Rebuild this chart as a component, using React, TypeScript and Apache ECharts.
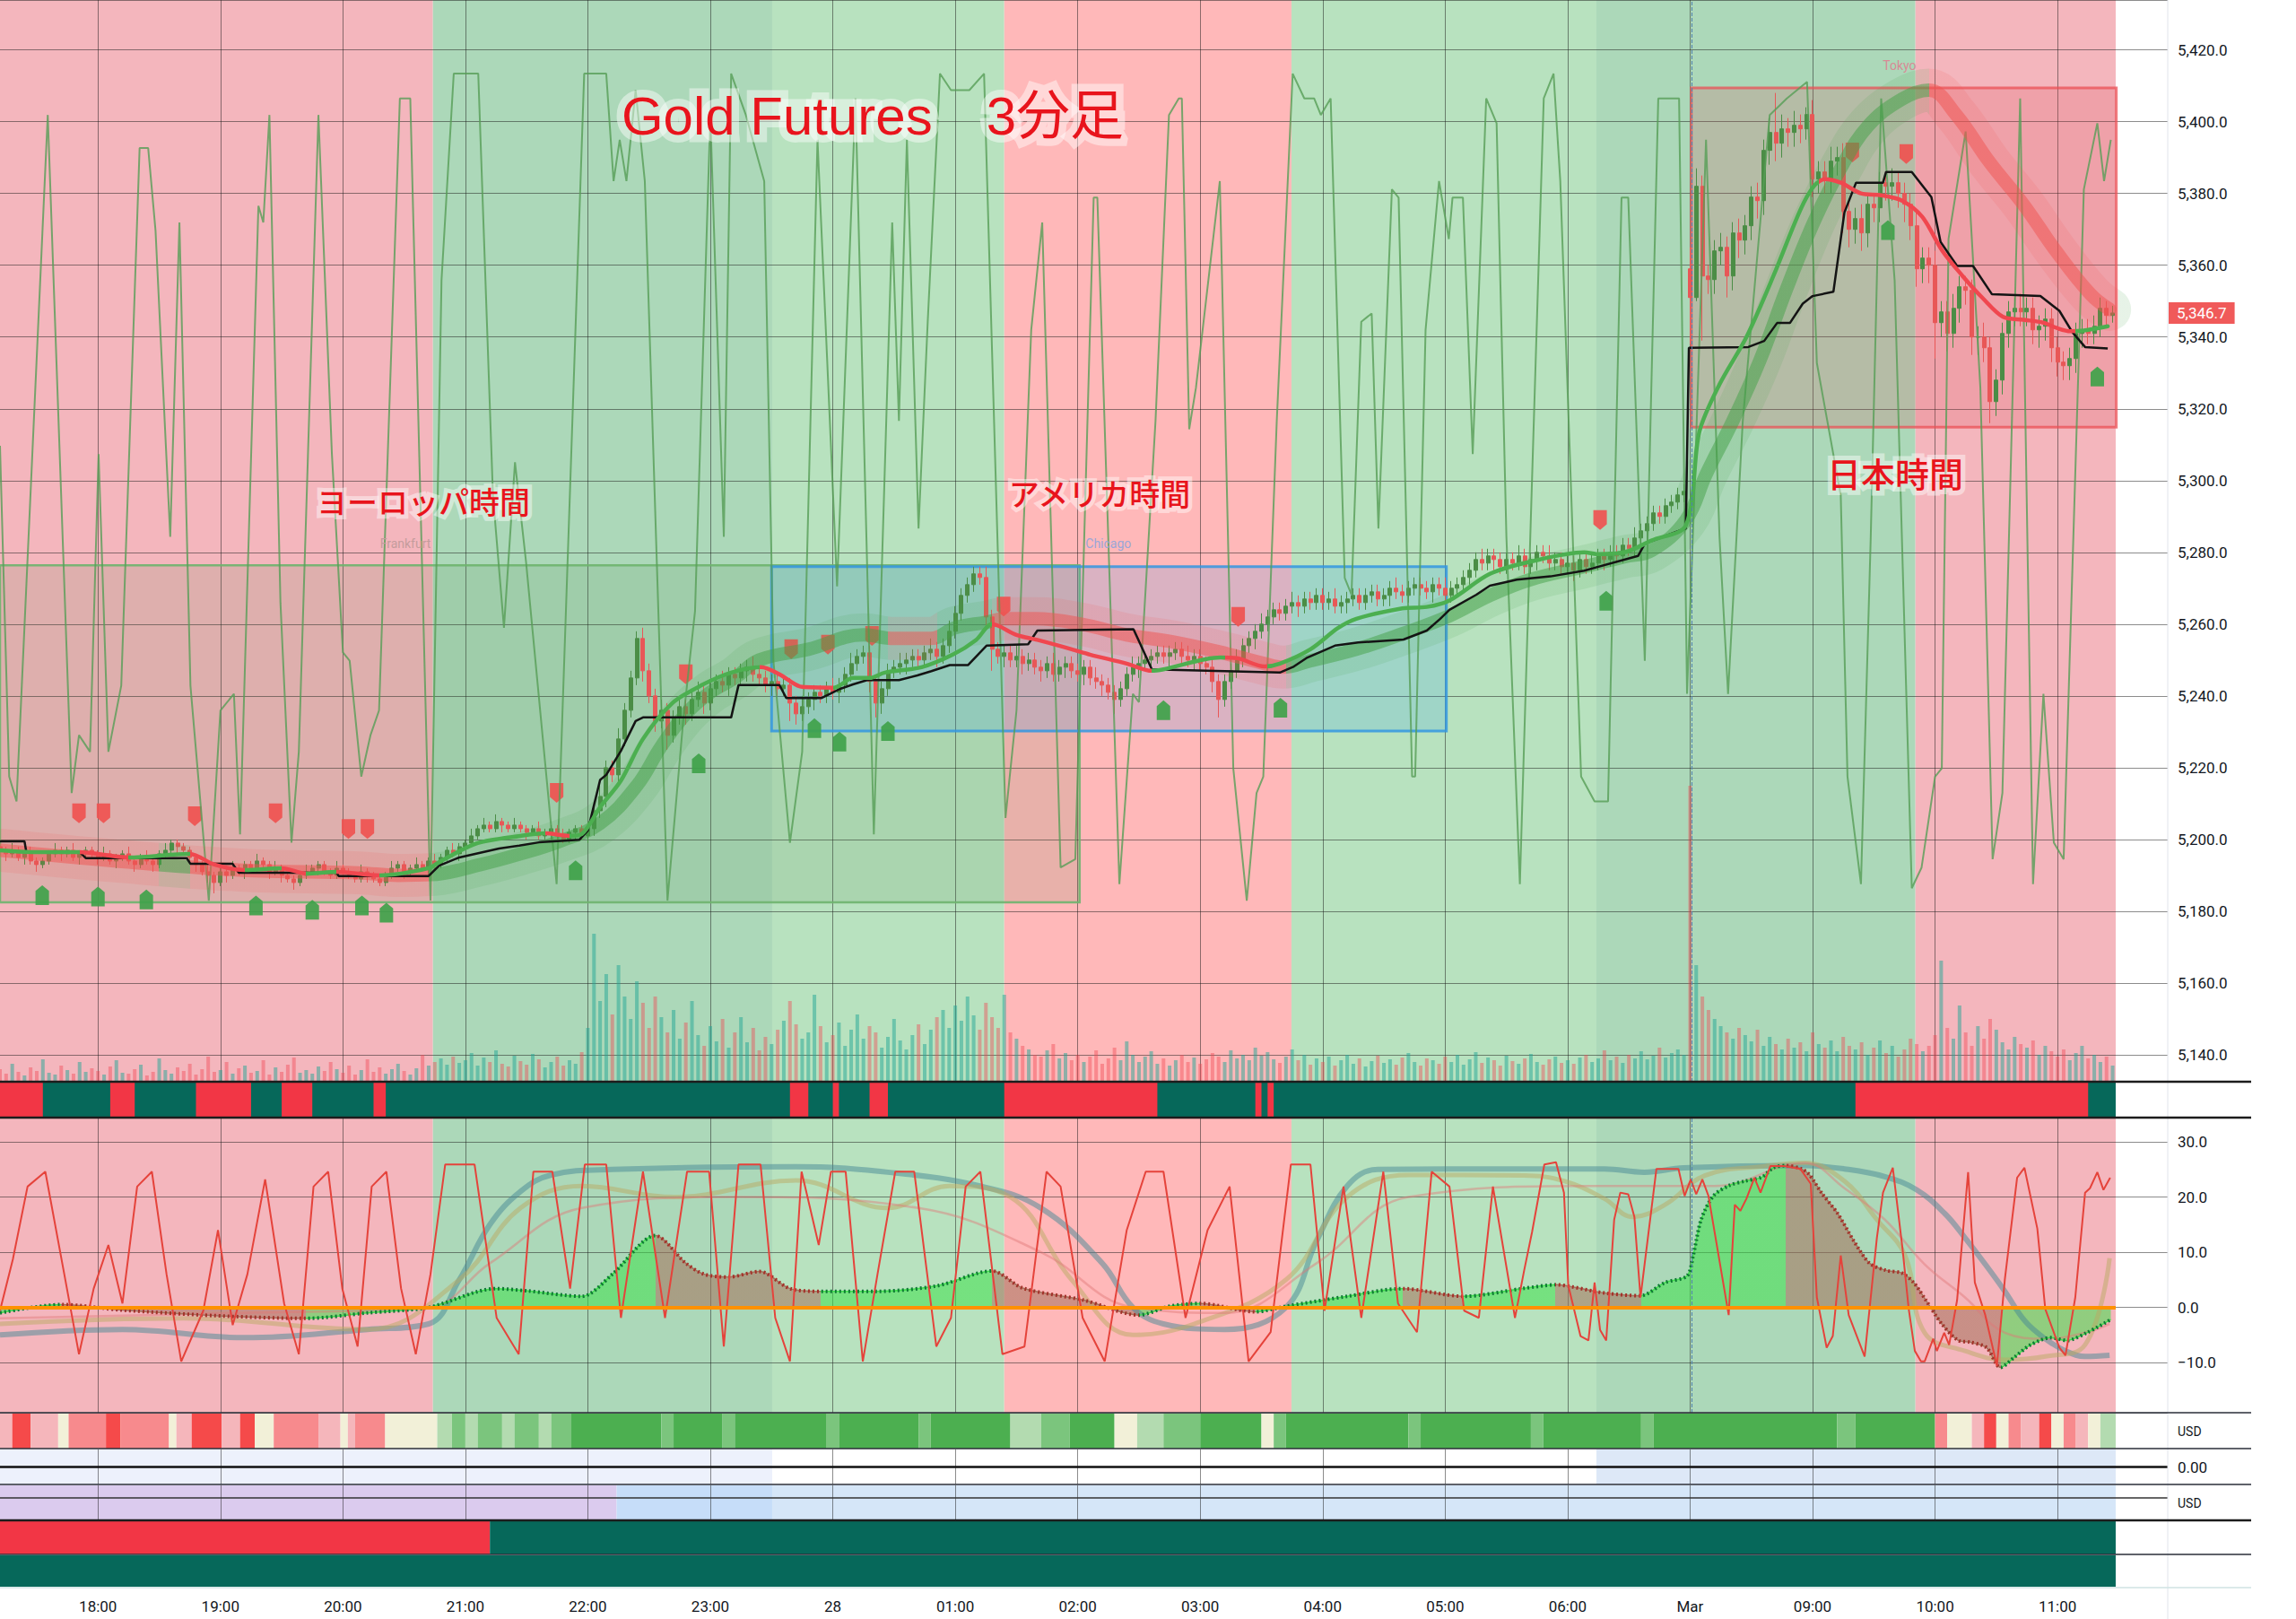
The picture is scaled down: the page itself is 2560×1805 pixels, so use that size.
import React, { useEffect, useRef } from 'react';
import * as echarts from 'echarts';

// ---------------- data ----------------
const SLOT_COUNT = 355;
const FIRST_TICK = 16;
const TICK_STEP = 20;
const tickLabels = ['18:00','19:00','20:00','21:00','22:00','23:00','28','01:00','02:00','03:00','04:00','05:00','06:00','Mar','09:00','10:00','11:00'];

const closes = [
5197,5196,5197,5195,5196,5194,5193,5194,5196,5197,5196,5197,5195,5196,5197,5196,
5195,5196,5194,5195,5196,5194,5193,5195,5194,5193,5196,5197,5199,5198,5197,5195,
5193,5191,5190,5188,5191,5190,5192,5191,5193,5192,5194,5193,5191,5192,5190,5189,
5188,5190,5191,5192,5193,5191,5190,5192,5191,5190,5189,5191,5190,5189,5188,5190,
5192,5193,5191,5192,5193,5192,5194,5193,5195,5197,5196,5198,5199,5201,5203,5204,
5203,5205,5204,5203,5204,5203,5202,5203,5201,5202,5203,5201,5200,5202,5203,5201,
5203,5208,5212,5220,5218,5228,5236,5245,5256,5247,5240,5233,5236,5229,5234,5237,
5235,5239,5241,5238,5242,5244,5243,5246,5245,5247,5248,5246,5245,5243,5244,5242,
5243,5238,5235,5237,5239,5241,5240,5242,5241,5243,5246,5249,5251,5252,5244,5238,
5242,5247,5248,5249,5250,5251,5250,5252,5253,5251,5254,5258,5263,5268,5271,5274,
5273,5262,5253,5251,5252,5250,5251,5249,5250,5248,5247,5249,5246,5248,5249,5247,
5246,5248,5245,5244,5243,5241,5239,5242,5246,5248,5249,5250,5251,5252,5251,5252,
5253,5251,5250,5251,5249,5248,5244,5239,5244,5247,5250,5254,5256,5258,5260,5262,
5264,5263,5265,5266,5265,5267,5266,5268,5266,5267,5265,5266,5267,5268,5266,5268,
5269,5267,5268,5270,5269,5268,5270,5271,5270,5269,5271,5270,5268,5270,5271,5273,
5275,5278,5277,5279,5278,5276,5278,5277,5279,5276,5278,5280,5279,5277,5278,5276,
5277,5275,5278,5276,5277,5279,5278,5280,5279,5282,5281,5284,5286,5288,5291,5290,
5293,5294,5296,5297,
5351,5382,5357,5356,5364,5365,5357,5369,5367,5371,5379,5378,5392,5397,5394,5398,
5397,5399,5398,5402,5384,5386,5384,5389,5390,5375,5370,5373,5369,5377,5376,5383,
5382,5383,5380,5377,5371,5359,5362,5360,5344,5347,5341,5348,5354,5353,5340,5340,
5337,5322,5328,5341,5347,5348,5347,5348,5342,5343,5345,5337,5333,5332,5334,5341,
5342,5341,5343,5348,5346,5346.7
];
const gapOpens: Record<number, number> = { 0: 5198, 276: 5359 };
const wickUp = [
1,1,2,1,1,2,1,1,1,2,1,1,2,1,1,1, 1,2,1,1,1,2,1,1,2,1,1,2,1,1,1,1,
1,1,2,1,1,1,2,1,1,1,2,1,1,2,1,1, 1,1,2,1,1,1,1,2,1,1,1,2,1,1,1,1,
2,1,1,1,2,1,1,2,1,1,2,1,1,2,1,2, 1,2,1,1,2,1,1,1,2,1,1,1,2,1,1,1,
2,2,3,2,2,3,2,2,2,3,2,2,3,2,2,2, 2,2,3,2,2,2,3,2,2,2,2,3,2,2,2,2,
2,2,2,3,2,2,2,2,3,2,2,3,2,2,2,2, 2,2,2,3,2,2,2,2,3,2,2,3,2,2,2,2,
2,3,2,2,2,2,3,2,2,2,2,2,3,2,2,2, 2,2,2,3,2,2,2,2,2,3,2,2,2,2,2,2,
2,2,3,2,2,2,2,2,2,2,3,2,2,2,3,2, 2,2,2,3,2,2,2,2,2,2,3,2,2,2,2,2,
2,2,2,2,3,2,2,2,2,2,2,2,3,2,2,2, 2,2,3,2,2,2,2,2,3,2,2,2,2,3,2,2,
2,2,2,2,3,2,2,2,2,2,2,3,2,2,2,2, 2,2,2,2,
6,5,3,3,3,4,3,3,4,3,3,4,3,4,11,4, 3,4,3,2,4,3,3,4,3,4,3,3,4,3,3,3,
3,4,3,3,3,4,3,3,4,3,3,4,3,3,3,3, 4,3,3,3,3,3,4,3,3,3,3,3,3,3,3,3,
3,3,3,3,2,2
];
const wickDn = [
1,2,1,1,2,1,2,1,1,1,2,1,1,2,1,1, 2,1,1,2,1,1,2,1,1,2,1,1,1,2,1,1,
2,1,2,3,1,2,1,1,2,1,1,1,2,1,2,1, 2,1,1,1,2,1,1,1,2,1,1,1,2,1,1,1,
1,1,2,1,1,1,2,1,1,1,1,2,1,1,1,1, 1,1,2,1,1,1,2,1,1,1,2,1,1,1,2,1,
2,2,2,3,2,2,2,2,2,3,2,3,2,4,2,2, 3,2,2,3,2,2,2,3,2,2,3,2,2,2,3,2,
2,5,3,2,2,3,2,2,2,3,2,2,2,2,3,4, 3,2,2,2,3,2,2,2,2,3,2,2,2,2,2,2,
2,3,6,2,3,2,2,3,2,2,3,2,2,2,3,2, 2,3,2,2,3,2,4,2,2,2,3,2,2,2,2,3,
2,2,2,3,2,2,3,5,2,2,2,2,2,3,2,2, 2,2,2,2,3,2,2,2,2,2,2,2,3,2,2,2,
2,2,2,3,2,2,2,2,2,2,3,2,2,2,2,2, 2,2,2,2,3,2,2,2,2,2,2,3,2,2,2,2,
2,3,2,2,2,2,3,2,2,2,2,2,2,3,2,2, 2,2,2,2,
13,1,18,4,4,4,6,4,5,4,4,5,4,4,5,4, 4,4,4,3,5,4,4,4,4,6,5,4,5,4,4,4,
4,4,4,5,4,5,4,5,10,4,5,4,4,4,5,5, 4,6,4,4,4,4,4,4,4,5,4,4,4,4,4,4,
4,3,3,3,3,2
];
const volumes = [
14,9,20,11,7,16,12,25,10,8,18,13,9,22,11,15,
12,8,17,24,10,9,14,19,7,11,26,13,9,16,12,20,8,14,28,11,
13,22,9,15,18,10,12,24,8,16,11,19,27,10,13,9,17,12,22,14,
10,18,8,13,25,11,16,9,14,20,12,8,15,30,18,22,26,19,28,21,
24,32,18,27,22,35,20,17,29,23,19,31,25,16,22,28,18,24,20,33,
60,165,90,120,75,130,95,70,112,88,60,95,72,55,80,48,66,90,52,40,
62,45,70,38,55,72,44,60,35,50,42,58,68,90,64,48,55,97,62,44,
52,66,40,58,75,48,62,55,38,50,70,46,36,52,64,42,58,72,80,60,
85,68,95,74,58,88,72,60,97,55,48,40,36,30,28,35,42,26,32,24,
30,22,28,35,20,26,38,24,45,30,22,28,34,20,26,18,24,30,22,27,
20,25,32,28,22,35,26,30,24,38,29,33,25,21,28,36,24,30,19,26,
22,28,18,24,30,20,26,17,23,29,21,25,19,27,32,22,18,26,24,20,
28,22,30,19,25,33,21,27,24,18,29,23,20,26,31,22,19,25,28,21,
24,20,27,30,22,26,35,24,28,21,30,26,34,25,29,38,27,32,36,30,
330,130,95,80,70,62,55,48,60,52,45,58,40,50,42,36,48,38,44,34,
55,42,38,46,34,50,40,36,44,30,38,46,32,40,28,36,48,42,34,40,
52,135,60,48,85,55,40,62,48,70,58,44,36,50,42,38,46,30,40,34,
28,36,24,32,40,26,30,22,28,18
];

// session background bands [from, to, kind] in bar units
const sessions: [number, number, string][] = [
  [0, 70.7, 'pink'], [70.7, 126.1, 'green'], [126.1, 164, 'lightGreen'], [164, 210.9, 'red'],
  [210.9, 260.7, 'lightGreen'], [260.7, 312.8, 'green'], [312.8, 345.5, 'pink'],
];
const sessionBoxes = [
  { kind: 'fra', from: 0, to: 176.3, low: 5182.5, high: 5276.4 },
  { kind: 'chi', from: 126, to: 236.2, low: 5230.2, high: 5276 },
  { kind: 'tok', from: 276.2, to: 345.6, low: 5314.9, high: 5409.4 },
];
const boxLabels: [string, number, number, string][] = [
  ['Frankfurt', 66.2, 5282.4, 'fra'], ['Chicago', 181, 5282.4, 'chi'], ['Tokyo', 310.2, 5415.6, 'tok'],
];
const sellSignals = [[12.9,5207.3],[16.9,5207.3],[31.8,5206.5],[45,5207.3],[56.9,5202.9],[60,5202.9],[90.9,5213],[112,5246],[129.2,5253],[135.2,5254.3],[142.4,5256.7],[163.9,5264.9],[202.2,5262],[261.3,5289],[302.5,5391.4],[311.3,5391]];
const buySignals = [[6.9,5184.5],[16,5184.1],[23.9,5183.3],[41.8,5181.6],[51,5180.4],[59.1,5181.6],[63.1,5179.6],[94,5191.4],[114.1,5221.2],[133,5231],[137.1,5227.3],[145,5230.2],[190,5236],[209.1,5236.7],[262.3,5266.5],[308.3,5369.8],[342.5,5329]];

const stepLine = [[0,5199.5],[4,5199.5],[4.3,5196.5],[13,5196.5],[14,5194.8],[30.5,5194.8],[31.1,5193.2],[38,5193.2],[39,5190.7],[55,5190.7],[55.3,5189.8],[70,5189.8],[71.7,5192.7],[75,5195],[81.5,5197.5],[84.8,5198.3],[88,5199.2],[94.6,5199.9],[96,5202.5],[98,5216.6],[99,5218],[101.4,5224.7],[103.8,5233],[105,5234],[119.4,5234],[120.6,5243],[127.3,5243],[128.4,5239.4],[134.1,5239.4],[135.6,5240.6],[137.1,5241.9],[139.3,5243.2],[141.6,5244.4],[146.8,5244.4],[149.8,5245.7],[152.1,5246.9],[155.1,5248.6],[158.1,5248.6],[161.1,5254],[167.9,5254.4],[169.4,5258.2],[185.1,5258.6],[188.1,5247.4],[209,5246.5],[211.3,5248.2],[213.5,5250.7],[218,5254],[221.8,5254.9],[229.2,5255.7],[233,5258.2],[235.2,5261.5],[236.7,5264],[241.1,5268.2],[243.3,5270.7],[247.7,5272.4],[253.2,5273.3],[258.7,5274.9],[267.5,5279],[268.6,5282.4],[275.3,5286.7],[275.8,5337],[285.5,5337.2],[288.1,5338.9],[290.2,5343.9],[292.3,5343.9],[294.4,5349.3],[296,5351.4],[299.4,5352.6],[301.2,5374.7],[303.1,5383],[307.5,5383],[308,5386],[312.2,5386],[315.4,5379],[316.9,5366.5],[319.6,5359.8],[322.2,5359.8],[325.3,5351.9],[333.2,5351.4],[336.3,5347.3],[338.4,5341.4],[340.5,5337.2],[344.2,5336.8]];

const fastMA = [[0,5197],[5,5196.5],[13,5196.5],[21,5195],[31,5196],[35,5193],[40,5191.5],[46,5192],[50,5190.5],[55,5191],[62,5190],[70,5192],[72,5194],[78,5199],[85,5201],[89,5201.7],[93,5201],[95,5201.5],[98,5209],[101.4,5216.4],[105,5228],[109.8,5238],[114.6,5243],[119.4,5246.5],[124.3,5248],[127.3,5246],[131,5242.5],[136.2,5242.3],[139.3,5245],[142,5245],[144.5,5246.5],[150.5,5248],[155.6,5251.5],[159.4,5255.6],[162,5260],[166,5257],[169.4,5255.6],[175,5253],[178,5251.5],[184,5249],[188,5247],[190,5247.4],[199.3,5250.7],[202,5250.5],[206.5,5248.2],[209,5249],[214,5253],[218.5,5258.9],[221.5,5261.5],[229,5264.4],[233,5264.8],[236.7,5266.6],[243.3,5274],[249.9,5277.4],[258.7,5280],[260.9,5279.5],[265.3,5280],[269.7,5283.3],[275.3,5287.5],[277.5,5313.5],[280.8,5326.8],[285.2,5340],[289.6,5357],[294,5375.4],[296.2,5382],[298,5384],[300.6,5383],[303.9,5380],[307.2,5379.5],[310.6,5378],[313.9,5373.5],[317.2,5364],[320.5,5357],[323.8,5350.8],[327.1,5345.6],[330.4,5344.8],[333.7,5344],[335.9,5342.5],[338.1,5341.6],[340.3,5341.8],[344.2,5343]];
const fastMAFalling = [[13,21],[31,40],[46,50],[55,62],[89,93],[124,136],[162,188],[200,207],[297,339]];

const slowBand = [[0,5197],[19,5194],[39,5191.5],[58.6,5190.7],[65,5190],[70.4,5190.2],[78.5,5193],[85,5196],[91.4,5199.5],[98,5204.5],[104,5215],[108,5226],[112,5235],[116,5241],[120,5245],[124,5250],[132,5253],[141,5257],[146,5256],[152,5256],[156,5259],[161,5260.5],[164.1,5261.5],[169,5261.5],[176.6,5260],[184,5257],[191.7,5255],[199,5252.3],[206.5,5249],[209.5,5248],[214,5249.8],[221.5,5253],[229,5257.3],[236.7,5262.3],[243.3,5268],[249.9,5272.4],[258.7,5276],[265.3,5278.8],[269.7,5280.5],[275.3,5289],[278.6,5301.7],[283,5316.7],[287.4,5333.5],[291.8,5353.6],[296.2,5372],[300.6,5387],[305,5398.7],[310.6,5406.3],[315,5408.8],[319.4,5402],[324.9,5388.7],[330.4,5377],[335.9,5363.6],[341.4,5351.9],[344.5,5347.7]];
const slowBandFalling = [[0,26],[31,70],[145,153],[162,210],[315,346]];

const mainOsc = [[0,55],[1.5,15],[2.7,12],[7.8,95],[11.7,13],[12.9,20],[14.7,18],[16.1,54],[17.7,18],[19.8,26],[22.8,91],[24.2,91],[25.4,81],[27.8,44],[29.3,82],[31.1,26],[34.1,0],[36,23],[38.2,25],[39.2,8],[42.2,84],[43,82],[44,95],[45.8,36],[47.6,7],[48.8,18],[52,95],[54.2,54],[56,30],[57.1,29],[59,15],[60.5,20],[61.9,23],[65.3,97],[67,97],[70.3,0],[72.1,75],[74.1,100],[78.1,100],[80.5,49],[82.3,33],[84.1,53],[85.9,41],[90.9,2],[95.4,100],[99,100],[100.2,87],[101.2,92],[102.3,87],[103.8,98],[105.3,87],[109,0],[111.6,22],[113.5,35],[116,95],[118.2,44],[119.4,100],[121.8,95],[124.8,87],[126.3,29],[129,7],[131,18],[133.5,92],[136.7,38],[139.7,97],[142.7,8],[145.7,82],[146.8,58],[148.1,92],[150,45],[151.5,70],[153.5,100],[155.3,98],[158.3,98],[160.7,100],[164.2,10],[166,23],[168.4,69],[170.2,82],[173.2,4],[175.6,5],[178.6,85],[179.2,85],[182.8,2],[185,25],[186,24],[188.7,58],[190.9,95],[192.5,97],[193,97],[194.2,57],[195.3,62],[199.2,87],[201.4,16],[203.6,0],[205.2,13],[206.3,15],[208.5,58],[211.1,100],[213,97],[214.6,97],[215.7,95],[217.3,97],[219.6,39],[220.7,37],[222.3,70],[224,71],[225.1,45],[227.3,86],[228.4,85],[230.6,15],[231.1,15],[232.8,69],[235,87],[236.6,80],[237.2,85],[238.9,85],[240.5,54],[242.7,97],[244.4,94],[246,44],[248.2,2],[249.9,44],[252.1,97],[253.7,100],[254.8,87],[258.2,15],[260.4,12],[262.6,12],[264.8,85],[265.9,85],[268.6,29],[270.8,97],[274.2,97],[275.5,25],[276.5,45],[278.6,92],[280.8,44],[282.2,25],[284.6,58],[289,95],[291.8,97],[295.1,99],[296.7,65],[300.6,49],[301.7,15],[303.9,2],[305.5,44],[307.2,97],[309.4,75],[312.2,1.5],[313.8,4],[316,15],[317.1,16],[318.2,80],[321,93],[323.4,62],[325.4,5],[327,13],[329.9,97],[332,2],[333.7,25],[335.4,7],[337,5],[340.3,86],[342.5,94],[343.6,87],[344.7,92]];

// red / green trend strip: red runs, green elsewhere
const trendRedRuns = [[0,7],[18,22],[32,41],[46,51],[61,63],[129,132],[136,137],[142,145],[164,189],[205,206],[207,208],[303,341]];

// oscillator panel
const oscFast = [[0,-0.6],[2.1,8.7],[4.5,21.9],[7.4,24.6],[10.5,6],[12.9,-8.5],[15.3,3.4],[17.7,11.3],[20,0.7],[22.4,21.9],[24.8,24.6],[27.2,6],[29.6,-9.8],[33.2,-0.6],[35.6,14],[38,-3.2],[40.4,6],[43.3,23.2],[46.4,0.7],[48.8,-8.5],[51.2,21.9],[53.6,24.6],[55.9,3.4],[58.4,-7.1],[60.7,21.9],[63.1,24.6],[65.5,3.4],[67.9,-8.5],[70.3,6],[72.7,25.9],[77.5,25.9],[81.1,-1.9],[84.7,-8.5],[87.1,24.6],[90.2,24.6],[93.1,3.4],[95.5,25.9],[99,25.9],[101.4,-1.9],[105,24.6],[108.6,-1.9],[112.2,24.6],[115.8,24.6],[118.2,-7.1],[120.6,25.9],[124.2,25.9],[126.6,-1.9],[129,-9.8],[130.9,24.6],[133.7,11.3],[135.7,24.6],[138.1,24.6],[140.9,-9.8],[143.3,6],[146.2,24.6],[149.3,24.6],[152.9,-7.1],[155.3,-1.9],[157.7,21.9],[160.1,24.6],[163.7,-8.5],[167.3,-7.1],[170.9,24.6],[173.2,21.9],[176.8,-1.9],[180.4,-9.8],[184,14],[187.1,24.6],[190,24.6],[193.6,-1.9],[197.2,14],[200.8,21.9],[203.9,-9.8],[207.5,-4.5],[210.8,25.9],[214,25.9],[216.3,-0.6],[219.4,21.9],[222.3,-1.9],[225.9,24.6],[228.3,0.7],[231.4,-4.5],[233.8,24.6],[236.7,21.9],[239.1,-0.6],[241.5,-1.9],[243.8,21.9],[247.4,-1.9],[248.9,6.7],[250.2,13.7],[252.2,25.9],[254.1,26.3],[255.4,20.8],[256.1,4],[258.1,-5.2],[259.4,-6],[260.4,4.5],[261.3,-4.1],[262.3,-6],[263.6,15.9],[264.6,20.8],[265.9,20.5],[266.9,16.4],[267.9,1.8],[270.5,25.1],[274.1,25.1],[275.1,20.2],[276.1,23.2],[277,20.5],[278,23.2],[279,20.2],[282.3,-1.4],[283.3,18.6],[284.2,17.5],[285.2,19.7],[286.5,23.5],[287.5,20.8],[289.1,25.6],[291.4,25.6],[294,25.1],[295.7,22.4],[296.7,1.8],[298.3,-7.3],[299.3,-5.2],[300.6,9.4],[301.9,-1.4],[304.5,-8.9],[306.5,12.6],[307.5,20.8],[309.1,25.3],[310.7,10.5],[311.7,-0.3],[312.7,-7.9],[313.7,-9.8],[314.3,-9.8],[315.7,-5.7],[316.3,-7.9],[317.5,-4.6],[318.3,-6.8],[319.6,1.3],[321.4,24.5],[322.5,4.5],[324.2,-1.4],[326.1,-10.6],[327.4,5.1],[329.4,23.5],[330.6,25.3],[332.7,14.3],[334,-0.3],[336.3,-7.3],[337.3,-8.7],[338.9,1.8],[340.5,20.8],[341.3,21.6],[342.5,24.5],[343.5,21.3],[344.6,23.5]];
const momentum = [[0,-1],[10,0.5],[20,-0.5],[35,-1.5],[50,-2],[60,-1],[70,0],[81,3.4],[86,3],[95,2],[100,6],[107,13],[112,8],[115,6],[119,5.5],[124,6.5],[129,3.4],[134,2.9],[143,2.9],[153,3.9],[162,6.6],[167,3.5],[177,1.3],[186,-1.4],[191,0.2],[196,0.7],[205,-0.8],[210,0.2],[220,2],[229,3.4],[239,2],[248.9,3.45],[254.2,4.1],[256.8,3.7],[262,2.6],[267.9,2.1],[271.9,4.5],[275.5,5.7],[276.5,9.4],[277.8,15.9],[279.8,20.2],[282.4,22.1],[285,22.9],[287.7,23.6],[289.6,25.3],[291.6,25.7],[294.2,25.1],[295.5,24],[297.5,20.7],[300.1,17],[302.7,12.1],[305.3,8],[308,6.7],[310.6,6.2],[312.5,4.5],[314.5,1.3],[317.1,-3],[319.8,-6],[321.7,-6.3],[324.4,-7.3],[326.7,-10.9],[329,-9],[331.6,-6.8],[334.9,-5.5],[337.5,-6],[340.8,-4.6],[344.7,-2.2]];
const momentumFalling = [[10,50],[107,134],[162,186],[196,205],[229,239],[254,268],[291.6,326.7]];
const oscTeal = [[0,-5],[20,-4],[40,-5.5],[60,-4],[70,-3],[75,5],[80,15],[85,21],[90,24],[100,25],[130,25.5],[145,24.5],[160,22],[170,18],[180,8],[185,0],[190,-3],[200,-4],[210,0],[215,12],[220,22],[225,25],[248.9,25.1],[262,25.1],[268.5,24.5],[275,25.3],[294.7,25.7],[301.2,25.1],[307.8,23.7],[313,21.3],[317.6,17],[320.9,12.6],[324.2,7.8],[327.4,2.9],[330.7,-2.5],[334,-5.7],[337.3,-7.9],[340.5,-8.9],[344.5,-8.7]];
const oscKhaki = [[0,-3],[30,-2],[60,-4],[75,5],[85,18],[95,22],[110,20],[130,23],[145,18],[155,22],[165,20],[175,5],[185,-5],[195,-3],[210,5],[220,20],[230,24],[248.9,23.9],[255.4,22.9],[262,19.7],[266.6,16.4],[271.9,18.6],[278.4,23.9],[288.2,25.6],[294.7,26.2],[301.2,22.9],[306.5,15.9],[311.1,9.4],[314.3,-4.6],[320.9,-7.9],[327.4,-9.5],[334,-8.9],[340.5,-6.8],[344.5,8.9]];
const oscPink = [[0,-2],[40,-1],[70,0],[80,8],[95,18],[120,20],[150,18],[170,10],[185,0],[200,-1],[215,8],[230,20],[260,22],[280,22],[294.7,26.2],[301.2,21.6],[307.8,15.9],[314.3,7.8],[320.9,1.8],[327.4,-4.6],[334,-5.7],[340.5,-4.6],[344.5,-3]];

// heat strip: [runEnd, level]
const heatRuns = [[2,-1],[5,-3],[9.5,-1],[11.2,0],[17.3,-2],[19.7,-3],[27.6,-2],[28.8,0],[31.3,-1],[36.2,-3],[39.2,-1],[41.6,-3],[44.7,0],[52,-2],[55.6,-1],[56.8,0],[58,-1],[62.9,-2],[71.4,0],[73.8,1],[76,2],[78,1],[82,2],[84,1],[88,2],[90,1],[93.3,2],[108,3],[110,2],[118,3],[120,2],[135,3],[137,2],[150,3],[152,2],[165,3],[170,1],[174.7,2],[182,3],[185.7,0],[190,1],[196,2],[206,3],[208,0],[210,2],[230,3],[232,2],[250,3],[252,2],[268,3],[270,2],[300,3],[303,2],[316,3],[318,-2],[322,0],[324,-1],[326,-3],[328,0],[330,-2],[333,-1],[335,-3],[337,0],[339,-2],[341,-1],[343,0],[345.5,1]];
const panel1Runs: [number, number, string][] = [[0,126.1,'lav'],[126.1,260.7,'white'],[260.7,345.5,'blue']];
const panel2Runs: [number, number, string][] = [[0,100.7,'purple'],[100.7,126.1,'sky'],[126.1,345.5,'pale']];
const biasRuns: [number, number, string][] = [[0,80,'red'],[80,345.5,'green']];
const DATA_END = 345.5;
const MAR_BREAK = 276.2;
const LAST_PRICE = 5346.7;

// ---------------- styles ----------------
const FONT = 'Roboto, "Noto Sans", "DejaVu Sans", sans-serif';
const JP_FONT = '"Noto Sans CJK JP", "Noto Sans", sans-serif';
const SESSION_COLORS: Record<string, string> = { pink: '#f4b6bd', green: '#acd8b9', lightGreen: '#b8e2bf', red: '#ffb8b9' };
const BOX_STYLES: Record<string, any> = {
  fra: { color: 'rgba(80,130,70,0.13)', borderColor: 'rgba(110,180,110,0.9)', borderWidth: 2.5 },
  chi: { color: 'rgba(33,150,243,0.17)', borderColor: 'rgba(50,150,225,0.85)', borderWidth: 3 },
  tok: { color: 'rgba(220,80,90,0.2)', borderColor: 'rgba(235,80,85,0.75)', borderWidth: 3 },
};
const LABEL_COLORS: Record<string, string> = { fra: '#c49c9c', chi: '#9aa6d8', tok: '#d98a96' };
const HEAT_COLORS: Record<string, string> = { '-3': '#f54a4a', '-2': '#f78a8d', '-1': '#f5b6bb', '0': '#f2f0d8', '1': '#b3dbb0', '2': '#7bc57d', '3': '#4caf50' };
const PANEL_COLORS: Record<string, string> = { lav: '#edf1fc', white: '#ffffff', blue: '#dde8f7', purple: '#dbcbee', sky: '#c6ddf9', pale: '#d5e6f8' };
const STRIP_RED = '#f23645';
const STRIP_GREEN = '#06685a';
const GRID_LINE = { color: 'rgba(25,25,25,0.5)', width: 1 };
const SELL_PATH = 'path://M0,0L10,0L10,10L5,14L0,10Z';
const BUY_PATH = 'path://M5,0L10,4L10,14L0,14L0,4Z';

function buildOption() {
  const categories = Array.from({ length: SLOT_COUNT }, (_, i) => {
    const k = (i - FIRST_TICK) / TICK_STEP;
    return Number.isInteger(k) && k >= 0 && k < tickLabels.length ? tickLabels[k] : '';
  });
  const isTick = (i: number) => categories[i] !== '';

  const candles = closes.map((c, i) => {
    const o = gapOpens[i] !== undefined ? gapOpens[i] : closes[i - 1];
    return [o, c, Math.min(o, c) - wickDn[i], Math.max(o, c) + wickUp[i]];
  });

  const W = 2417;
  const gridDefs = [
    { top: 0, height: 1206 },   // 0 price
    { top: 800, height: 406 },  // 1 volume
    { top: 1207, height: 38 },  // 2 trend strip
    { top: 1246, height: 329 }, // 3 oscillator
    { top: 1576, height: 39 },  // 4 heat
    { top: 1616, height: 39 },  // 5 panel 1
    { top: 1656, height: 39 },  // 6 panel 2
    { top: 1696, height: 37 },  // 7 bias strip
    { top: 1734, height: 35 },  // 8 base strip
  ];
  const grid = gridDefs.map((g) => ({ left: 0, width: W, ...g }));
  const splitGrids = [0, 3, 5, 6];

  const xAxis: any[] = [];
  gridDefs.forEach((_, g) => {
    xAxis.push({
      type: 'category', gridIndex: g, data: categories, boundaryGap: false,
      show: splitGrids.includes(g) || g === 8, z: 1,
      axisLine: { show: false }, axisTick: { show: false },
      axisLabel: g === 8
        ? { show: true, interval: (i: number) => isTick(i), color: '#131722', fontSize: 17, margin: 13, fontFamily: FONT }
        : { show: false },
      splitLine: { show: splitGrids.includes(g), interval: (i: number) => isTick(i), lineStyle: GRID_LINE },
    });
    xAxis.push({ type: 'value', gridIndex: g, min: 0, max: SLOT_COUNT - 1, show: false });
  });
  const CX = (g: number) => 2 * g;
  const VX = (g: number) => 2 * g + 1;

  const rightLabel = { color: '#131722', fontSize: 17, fontFamily: FONT, margin: 11 };
  const yAxis: any[] = [
    { type: 'value', gridIndex: 0, position: 'right', min: 5132.5, max: 5433.9, splitNumber: 15, z: 1,
      axisLine: { show: false }, axisTick: { show: false },
      axisLabel: { ...rightLabel, showMinLabel: false, showMaxLabel: false,
        formatter: (v: number) => v.toLocaleString('en-US', { minimumFractionDigits: 1, maximumFractionDigits: 1 }) },
      splitLine: { show: true, lineStyle: GRID_LINE } },
    { type: 'value', gridIndex: 0, min: -21.9, max: 108.9, show: false },
    { type: 'value', gridIndex: 1, min: 0, max: 406, show: false },
    { type: 'value', gridIndex: 2, min: 0, max: 1, show: false },
    { type: 'value', gridIndex: 3, position: 'right', min: -19.1, max: 34.4, splitNumber: 5, z: 1,
      axisLine: { show: false }, axisTick: { show: false },
      axisLabel: { ...rightLabel, showMinLabel: false, showMaxLabel: false,
        formatter: (v: number) => (v < 0 ? '\u2212' : '') + Math.abs(v).toFixed(1) },
      splitLine: { show: true, lineStyle: GRID_LINE } },
    { type: 'value', gridIndex: 4, position: 'right', min: 0, max: 1, interval: 0.5,
      axisLine: { show: false }, axisTick: { show: false }, splitLine: { show: false },
      axisLabel: { ...rightLabel, fontSize: 14, formatter: (v: number) => (v === 0.5 ? 'USD' : '') } },
    { type: 'value', gridIndex: 5, position: 'right', min: -1, max: 1, interval: 1,
      axisLine: { show: false }, axisTick: { show: false }, splitLine: { show: false },
      axisLabel: { ...rightLabel, formatter: (v: number) => (v === 0 ? '0.00' : '') } },
    { type: 'value', gridIndex: 6, position: 'right', min: -1, max: 1, interval: 1,
      axisLine: { show: false }, axisTick: { show: false }, splitLine: { show: false },
      axisLabel: { ...rightLabel, fontSize: 14, formatter: (v: number) => (v === 0 ? 'USD' : '') } },
    { type: 'value', gridIndex: 7, min: 0, max: 1, show: false },
    { type: 'value', gridIndex: 8, min: 0, max: 1, show: false },
  ];

  const series: any[] = [];
  const add = (s: any) => { series.push(s); return series.length - 1; };
  const runsArea = (runs: [number, number, string][], colors: Record<string, string>) =>
    runs.map(([a, b, k]) => [{ xAxis: a, itemStyle: { color: colors[k] } }, { xAxis: b }]);
  const sessionArea = runsArea(sessions, SESSION_COLORS);
  const marLine = { silent: true, symbol: 'none', label: { show: false }, lineStyle: { type: 'dashed', color: '#4f7fae', width: 1 }, data: [{ xAxis: MAR_BREAK }] };

  // ---- price panel ----
  add({ type: 'line', xAxisIndex: VX(0), yAxisIndex: 0, data: [], silent: true,
    markArea: { silent: true, z: 0.5, data: sessionArea }, markLine: marLine });
  add({ type: 'line', xAxisIndex: VX(0), yAxisIndex: 0, data: [], silent: true,
    markArea: { silent: true, z: 1.5,
      data: sessionBoxes.map((b) => [{ xAxis: b.from, yAxis: b.high, itemStyle: BOX_STYLES[b.kind] }, { xAxis: b.to, yAxis: b.low }]) },
    markPoint: { silent: true, symbol: 'rect', symbolSize: 1, itemStyle: { color: 'rgba(0,0,0,0)' },
      data: boxLabels.map(([t, x, y, k]) => ({ coord: [x, y], label: { show: true, position: 'inside', formatter: t, color: LABEL_COLORS[k], fontSize: 14, fontFamily: FONT } })) } });
  add({ type: 'bar', xAxisIndex: CX(1), yAxisIndex: 2, barWidth: 4, silent: true,
    data: volumes.map((v, i) => ({ value: v, itemStyle: { color: candles[i][1] >= candles[i][0] ? 'rgba(34,166,150,0.5)' : 'rgba(240,70,80,0.42)' } })) });
  add({ type: 'line', xAxisIndex: VX(0), yAxisIndex: 1, data: mainOsc, showSymbol: false, silent: true,
    lineStyle: { color: 'rgba(86,158,86,0.8)', width: 2 } });
  const haloIdx = add({ type: 'line', xAxisIndex: VX(0), yAxisIndex: 0, data: slowBand, smooth: 0.4, showSymbol: false, silent: true,
    lineStyle: { width: 48, opacity: 0.13, cap: 'round', join: 'round' } });
  const bandIdx = add({ type: 'line', xAxisIndex: VX(0), yAxisIndex: 0, data: slowBand, smooth: 0.4, showSymbol: false, silent: true,
    lineStyle: { width: 15, opacity: 0.5, cap: 'round', join: 'round' } });
  add({ type: 'line', xAxisIndex: VX(0), yAxisIndex: 0, data: stepLine, showSymbol: false, silent: true,
    lineStyle: { color: '#141414', width: 2.5 } });
  add({ type: 'candlestick', xAxisIndex: CX(0), yAxisIndex: 0, data: candles, barWidth: 4.5, silent: true,
    itemStyle: { color: '#4b8d46', color0: '#e85757', borderColor: '#4b8d46', borderColor0: '#e85757', borderWidth: 1 } });
  const maIdx = add({ type: 'line', xAxisIndex: VX(0), yAxisIndex: 0, data: fastMA, smooth: 0.3, showSymbol: false, silent: true,
    lineStyle: { width: 4.5, cap: 'round', join: 'round' } });
  add({ type: 'scatter', xAxisIndex: VX(0), yAxisIndex: 0, data: sellSignals, symbol: SELL_PATH, symbolSize: [15, 22], silent: true,
    itemStyle: { color: '#ef5350', opacity: 0.92 } });
  add({ type: 'scatter', xAxisIndex: VX(0), yAxisIndex: 0, data: buySignals, symbol: BUY_PATH, symbolSize: [15, 22], silent: true,
    itemStyle: { color: '#3fa24a', opacity: 0.92 } });
  // last price tag on the price scale
  add({ type: 'line', xAxisIndex: VX(0), yAxisIndex: 0, data: [], silent: true,
    markLine: { silent: true, symbol: 'none', lineStyle: { color: 'rgba(0,0,0,0)', width: 0 },
      label: { show: true, position: 'end', distance: 1, opacity: 1,
        formatter: (p: any) => Number(p.value).toLocaleString('en-US', { minimumFractionDigits: 1 }),
        backgroundColor: '#f05a5a', color: '#ffffff', padding: [4, 9, 3, 9], fontSize: 17, fontFamily: FONT },
      data: [{ yAxis: LAST_PRICE }] } });

  // ---- trend strip ----
  add({ type: 'line', xAxisIndex: VX(2), yAxisIndex: 3, data: [], silent: true,
    markArea: { silent: true, data: [[{ xAxis: 0, itemStyle: { color: STRIP_GREEN } }, { xAxis: DATA_END }],
      ...trendRedRuns.map(([a, b]) => [{ xAxis: a, itemStyle: { color: STRIP_RED } }, { xAxis: b }])] } });

  // ---- oscillator panel ----
  add({ type: 'line', xAxisIndex: VX(3), yAxisIndex: 4, data: [], silent: true,
    markArea: { silent: true, z: 0.5, data: sessionArea }, markLine: marLine });
  add({ type: 'line', xAxisIndex: VX(3), yAxisIndex: 4, data: oscTeal, smooth: 0.4, showSymbol: false, silent: true,
    lineStyle: { color: 'rgba(70,135,150,0.5)', width: 6 } });
  add({ type: 'line', xAxisIndex: VX(3), yAxisIndex: 4, data: oscKhaki, smooth: 0.4, showSymbol: false, silent: true,
    lineStyle: { color: 'rgba(185,170,100,0.5)', width: 5 } });
  add({ type: 'line', xAxisIndex: VX(3), yAxisIndex: 4, data: oscPink, smooth: 0.4, showSymbol: false, silent: true,
    lineStyle: { color: 'rgba(225,120,120,0.45)', width: 2.5 } });
  const momAreaIdx = add({ type: 'line', xAxisIndex: VX(3), yAxisIndex: 4, data: momentum, smooth: 0.3, showSymbol: false, silent: true,
    lineStyle: { width: 1.5 }, areaStyle: { opacity: 0.55 } });
  const momDotIdx = add({ type: 'line', xAxisIndex: VX(3), yAxisIndex: 4, data: momentum, smooth: 0.3, showSymbol: false, silent: true,
    lineStyle: { width: 4, type: [2, 3] } });
  add({ type: 'line', xAxisIndex: VX(3), yAxisIndex: 4, data: oscFast, showSymbol: false, silent: true,
    lineStyle: { color: '#e5433b', width: 2 },
    markLine: { silent: true, symbol: 'none', label: { show: false }, lineStyle: { color: '#ff9100', width: 4, type: 'solid' },
      data: [[{ coord: [0, 0] }, { coord: [DATA_END, 0] }]] } });

  // ---- heat strip ----
  let start = 0;
  const heatAreas = heatRuns.map(([end, lvl]) => {
    const item = [{ xAxis: start, itemStyle: { color: HEAT_COLORS[String(lvl)] } }, { xAxis: end }];
    start = end;
    return item;
  });
  add({ type: 'line', xAxisIndex: VX(4), yAxisIndex: 5, data: [], silent: true, markArea: { silent: true, data: heatAreas } });

  // ---- small panels ----
  add({ type: 'line', xAxisIndex: VX(5), yAxisIndex: 6, data: [], silent: true,
    markArea: { silent: true, z: 0.5, data: runsArea(panel1Runs, PANEL_COLORS) },
    markLine: { silent: true, symbol: 'none', label: { show: false }, lineStyle: { color: '#111', width: 2.5, type: 'solid' }, data: [{ yAxis: 0 }] } });
  add({ type: 'line', xAxisIndex: VX(6), yAxisIndex: 7, data: [], silent: true,
    markArea: { silent: true, z: 0.5, data: runsArea(panel2Runs, PANEL_COLORS) },
    markLine: { silent: true, symbol: 'none', label: { show: false }, lineStyle: { color: '#333', width: 1.5, type: 'solid' }, data: [{ yAxis: 0.3 }] } });
  add({ type: 'line', xAxisIndex: VX(7), yAxisIndex: 8, data: [], silent: true,
    markArea: { silent: true, data: runsArea(biasRuns, { red: STRIP_RED, green: STRIP_GREEN }) } });
  add({ type: 'line', xAxisIndex: VX(8), yAxisIndex: 9, data: [], silent: true,
    markArea: { silent: true, data: [[{ xAxis: 0, itemStyle: { color: STRIP_GREEN } }, { xAxis: DATA_END }]] } });

  const pieces = (ranges: number[][], color: string) => ranges.map(([a, b]) => ({ gte: a, lt: b, color }));
  const visualMap = [
    { type: 'piecewise', show: false, seriesIndex: [haloIdx, bandIdx], dimension: 0, pieces: pieces(slowBandFalling, '#ef5350'), outOfRange: { color: '#43a047' } },
    { type: 'piecewise', show: false, seriesIndex: maIdx, dimension: 0, pieces: pieces(fastMAFalling, '#f0474f'), outOfRange: { color: '#4caf50' } },
    { type: 'piecewise', show: false, seriesIndex: momAreaIdx, dimension: 0, pieces: pieces(momentumFalling, '#a5705a'), outOfRange: { color: '#3fe04c' } },
    { type: 'piecewise', show: false, seriesIndex: momDotIdx, dimension: 0, pieces: pieces(momentumFalling, '#a3322a'), outOfRange: { color: '#0e7a34' } },
  ];

  const separators: [number, number, string][] = [
    [1206, 2.5, '#1c1c1c'], [1246, 2.5, '#1c1c1c'], [1575, 1.5, '#2a2e39'], [1615, 1.5, '#2a2e39'],
    [1655, 1.5, '#2a2e39'], [1695, 2.5, '#1c1c1c'], [1733, 1.5, '#2a2e39'], [1770, 1.5, '#cfe3e3'],
  ];
  const textEl = (text: string, x: number, y: number, size: number, family: string, weight: string | number) => {
    const base = { text, fontSize: size, fontFamily: family, fontWeight: weight, align: 'center', verticalAlign: 'middle', textAlign: 'center', textVerticalAlign: 'middle' };
    return [
      { type: 'text', x, y, z: 99, silent: true,
        style: { ...base, fill: 'rgba(255,255,255,0.55)', stroke: 'rgba(255,255,255,0.45)', lineWidth: size * 0.28, shadowColor: '#ffffff', shadowBlur: 16 } },
      { type: 'text', x, y, z: 100, silent: true, style: { ...base, fill: '#e8141c' } },
    ];
  };
  const graphic: any[] = [
    { type: 'line', z: 40, silent: true, shape: { x1: 2417, y1: 0, x2: 2417, y2: 1805 }, style: { stroke: '#e0e3eb', lineWidth: 1 } },
    ...separators.map(([y, w, c]) => ({ type: 'line', z: 50, silent: true, shape: { x1: 0, y1: y, x2: 2510, y2: y }, style: { stroke: c, lineWidth: w } })),
    ...textEl('Gold Futures\u30003分足', 973, 129, 60, '"Liberation Sans", Arial, "Noto Sans CJK JP", sans-serif', 'normal'),
    ...textEl('ヨーロッパ時間', 472, 558, 34, JP_FONT, 500),
    ...textEl('アメリカ時間', 1226, 549, 34, JP_FONT, 500),
    ...textEl('日本時間', 2113, 526, 38, JP_FONT, 500),
  ];

  return {
    animation: false,
    backgroundColor: '#ffffff',
    grid, xAxis, yAxis, series, visualMap, graphic,
  };
}

export default function App() {
  const ref = useRef<HTMLDivElement>(null);
  useEffect(() => {
    if (!ref.current) return;
    const chart = echarts.init(ref.current, null, { renderer: 'svg' });
    chart.setOption(buildOption() as any);
    return () => chart.dispose();
  }, []);
  return <div ref={ref} style={{ position: 'fixed', left: 0, top: 0, width: 2560, height: 1805, background: '#fff' }} />;
}
